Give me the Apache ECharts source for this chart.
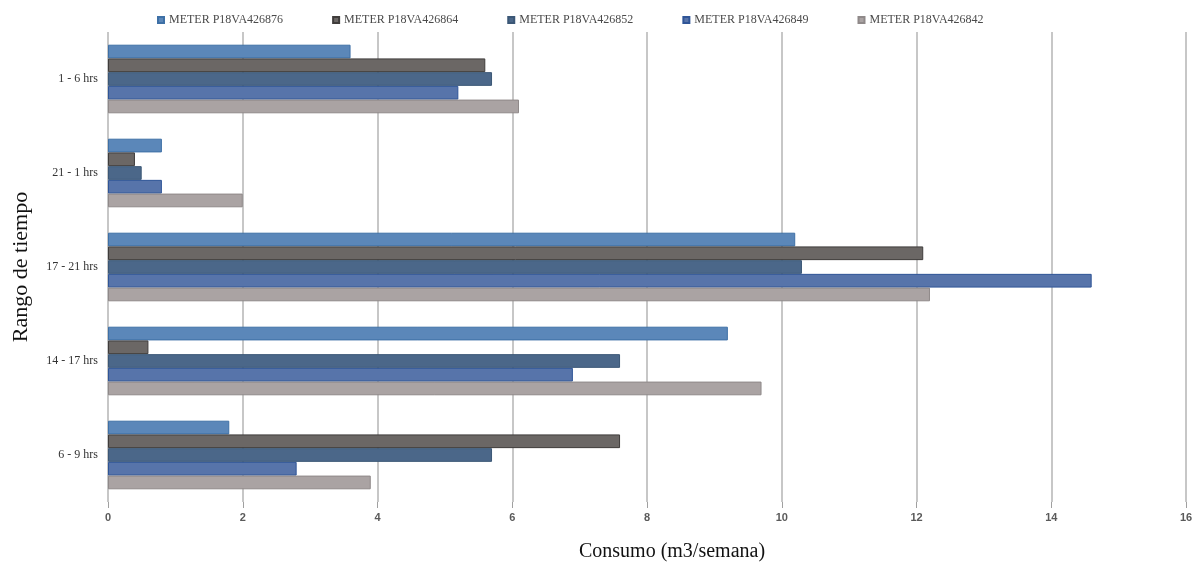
<!DOCTYPE html>
<html>
<head>
<meta charset="utf-8">
<style>
  html, body { margin: 0; padding: 0; background: #ffffff; }
  #chart { width: 1198px; height: 568px; }
</style>
<script src="https://cdn.jsdelivr.net/npm/echarts@6/dist/echarts.min.js"></script>
</head>
<body>
<div id="chart"></div>
<script>
// Time ranges, listed top to bottom
const ranges = ['1 - 6 hrs', '21 - 1 hrs', '17 - 21 hrs', '14 - 17 hrs', '6 - 9 hrs'];

// Weekly consumption per meter (m3/semana), same order as ranges
const meterNames = ['METER P18VA426876', 'METER P18VA426864', 'METER P18VA426852', 'METER P18VA426849', 'METER P18VA426842'];
const m426876 = [3.6, 0.8, 10.2, 9.2, 1.8];
const m426864 = [5.6, 0.4, 12.1, 0.6, 7.6];
const m426852 = [5.7, 0.5, 10.3, 7.6, 5.7];
const m426849 = [5.2, 0.8, 14.6, 6.9, 2.8];
const m426842 = [6.1, 2.0, 12.2, 9.7, 3.9];
const meterValues = [m426876, m426864, m426852, m426849, m426842];

const fills   = ['#5b87b9', '#6b6765', '#4b6789', '#5774aa', '#aaa3a3'];
const borders = ['#3e70a6', '#3f3c3b', '#3b5776', '#2f5597', '#8f8989'];

const serif = '"Liberation Serif", "DejaVu Serif", serif';

const chart = echarts.init(document.getElementById('chart'));
chart.setOption({
  animation: false,
  backgroundColor: '#ffffff',
  legend: {
    data: meterNames,
    top: 9,
    left: 152,
    itemWidth: 6,
    itemHeight: 6,
    itemGap: 49,
    icon: 'rect',
    textStyle: { fontFamily: serif, fontSize: 12, color: '#4a4a4a' }
  },
  grid: { left: 108, right: 12, top: 32, bottom: 66 },
  xAxis: {
    type: 'value',
    min: 0,
    max: 16,
    interval: 2,
    name: 'Consumo (m3/semana)',
    nameLocation: 'middle',
    nameGap: 40,
    nameTextStyle: { fontFamily: serif, fontSize: 20, color: '#111', padding: [0, 0, 0, 50] },
    axisLine: { show: false },
    axisTick: { show: true, length: 6, lineStyle: { color: '#a0a0a0' } },
    axisLabel: { fontFamily: '"Liberation Sans", sans-serif', fontWeight: 'bold', fontSize: 11, color: '#5a5a5a', margin: 10 },
    splitLine: { show: true, lineStyle: { color: '#b4b4b4', width: 1.5 } }
  },
  yAxis: {
    type: 'category',
    data: ranges,
    inverse: true,
    name: 'Rango de tiempo',
    nameLocation: 'middle',
    nameGap: 76,
    nameRotate: 90,
    nameTextStyle: { fontFamily: serif, fontSize: 22, color: '#111' },
    axisLine: { show: false },
    axisTick: { show: false },
    axisLabel: { fontFamily: serif, fontSize: 12, color: '#333', margin: 10 }
  },
  series: meterNames.map((name, i) => ({
    name: name,
    type: 'bar',
    data: meterValues[i],
    barGap: '0%',
    barCategoryGap: '27%',
    itemStyle: { color: fills[i], borderColor: borders[i], borderWidth: 1 }
  }))
});
</script>
</body>
</html>
